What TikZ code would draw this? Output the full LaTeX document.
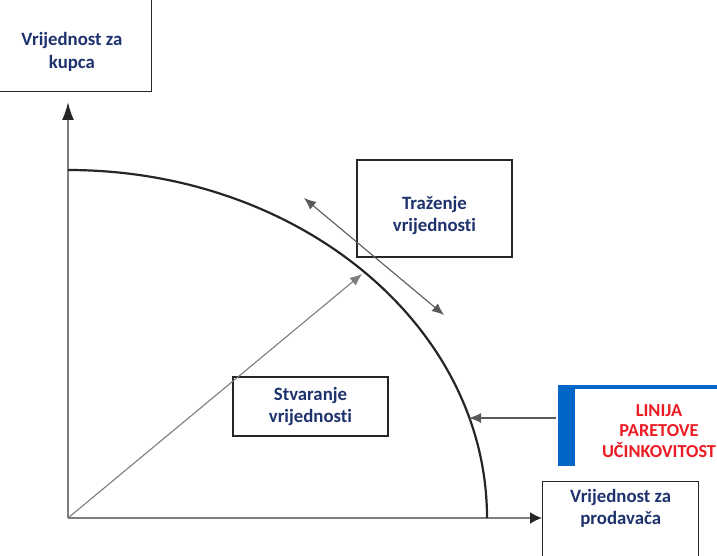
\documentclass[tikz,border=0pt]{standalone}
\usepackage{fontspec}
\setmainfont{Carlito}[Ligatures=NoCommon]
\usetikzlibrary{positioning,arrows.meta}
\tikzset{>={Latex[length=12pt,width=10pt]}}
\definecolor{navy}{RGB}{30,50,110}
\definecolor{parred}{RGB}{236,28,36}
\definecolor{barblue}{RGB}{0,102,200}
\definecolor{axisgray}{RGB}{125,125,125}

\begin{document}
\begin{tikzpicture}[x=1pt,y=-1pt,
    box/.style={draw=black!85, line width=1.4pt, minimum width=155pt},
    lbl/.style={font=\bfseries\fontsize{18.8}{22.5}\selectfont, text=navy, align=center, inner sep=0pt}]
      \clip (0,0) rectangle (717,556);
      \fill[white] (0,0) rectangle (717,556);
      \coordinate (o) at (68,518);
      \coordinate (ctop) at (68,170);
      \coordinate (cright) at (487,518);
      \node[box, minimum width=185pt, minimum height=130pt, anchor=south east] (kupac) at (152,92) {};
      \node[lbl] (kupacTxt) at (72,52) {Vrijednost za\\kupca};
      \node[box, minimum width=156pt, minimum height=110pt, anchor=north west] (prodavac) at (542,481) {};
      \node[lbl, below=8pt of prodavac.north] (prodavacTxt) {Vrijednost za\\prodava\v{c}a};
      \node[box, minimum height=97pt] (trazenje) at (434.5,208.5) {};
      \node[lbl] (trazenjeTxt) at ([yshift=-7pt]trazenje.center) {Tra\v{z}enje\\vrijednosti};
      \node[box, lbl, minimum width=155pt, minimum height=59pt] (stvaranje) at (310.5,406.5) {Stvaranje\\vrijednosti};
      \node[minimum width=210pt, minimum height=80pt, inner sep=0pt] (pareto) at (663,425.5) {};
      \fill[barblue] (pareto.north west) rectangle ([xshift=17pt]pareto.south west);
      \draw[barblue, line width=3.5pt] ([yshift=-1.75pt]pareto.north west) -- ([yshift=-1.75pt]pareto.north east);
      \node[lbl, text=parred, font=\bfseries\fontsize{18.3}{20.5}\selectfont] (paretoTxt) at (659,431) {LINIJA\\PARETOVE\\U\v{C}INKOVITOST};
      \coordinate (pa) at (556,418);
      \coordinate (pc) at (469,418);
      \coordinate (sv) at (362,274);
      \coordinate (t1) at (304,198);
      \coordinate (t2) at (444,315);
      \draw[axisgray, line width=1.8pt, -{Latex[length=18pt,width=12pt,color=black!85]}] (o) -- (o |- {(0,102)});
      \draw[axisgray, line width=1.8pt, -{Latex[length=12pt,width=12pt,color=black!85]}] (o) -- (o -| prodavac.west);
      \draw[black!85, line width=2.2pt] (ctop) .. controls (299.4,170) and (487,325.8) .. (cright);
      \draw[->, axisgray, line width=1.1pt] (o) -- (sv);
      \draw[<->, black!65, line width=1.1pt] (t1) -- (t2);
      \draw[->, black!65, line width=1.1pt] (pa) -- (pc);
    \end{tikzpicture}
\end{document}
